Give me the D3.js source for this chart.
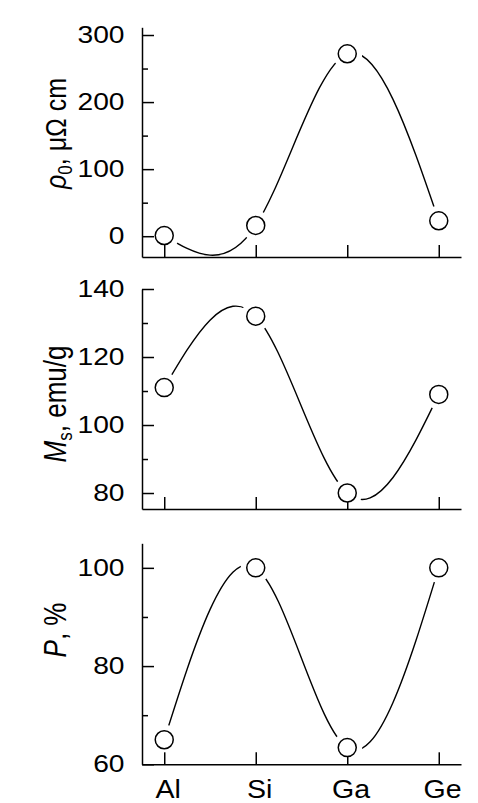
<!DOCTYPE html>
<html>
<head>
<meta charset="utf-8">
<script src="https://cdn.jsdelivr.net/npm/d3@7"></script>
<style>
  body { margin: 0; background: #fff; }
  text { font-family: "Liberation Sans", Arial, sans-serif; fill: #000; }
</style>
</head>
<body>
<script>

var width = 478,
    height = 803;

// data
var elements = ["Al", "Si", "Ga", "Ge"];
var rho0 = [1, 16, 272, 23];      // µΩ cm
var ms = [111, 132, 80, 109];     // emu/g
var pol = [65, 100, 63.4, 100];   // %

var rhoTicks = [0, 100, 200, 300], rhoMinor = [50, 150, 250];
var msTicks = [80, 100, 120, 140], msMinor = [90, 110, 130];
var polTicks = [60, 80, 100], polMinor = [70, 90];

var stretch = 1.2; // the original figure is a bit wider than tall

var svg = d3.select("body").append("svg")
    .attr("width", width)
    .attr("height", height);

var x = d3.scalePoint()
    .domain(elements)
    .range([142, 461])
    .padding(0.243);

var panels = [
  { values: rho0, domain: [-31, 311.5], range: [257, 27.3], ticks: rhoTicks, minor: rhoMinor, title: "rho", ty: 133.5, labels: false },
  { values: ms, domain: [75.3, 140], range: [509, 289], ticks: msTicks, minor: msMinor, title: "ms", ty: 404, labels: false },
  { values: pol, domain: [60, 105], range: [764.3, 543.3], ticks: polTicks, minor: polMinor, title: "p", ty: 630, labels: true }
];

panels.forEach(function(p) {
  var y = d3.scaleLinear().domain(p.domain).range(p.range);
  var g = svg.append("g");

  var pts = p.values.map(function(v, i) { return [x(elements[i]), y(v)]; });

  var line = d3.line().curve(d3.curveNatural);
  g.append("path")
      .attr("d", line(pts))
      .attr("fill", "none")
      .attr("stroke", "#000")
      .attr("stroke-width", 1.4);

  // white gap round each symbol, like the plotting program does
  g.selectAll("circle.gap")
      .data(pts)
      .enter().append("circle")
      .attr("class", "gap")
      .attr("cx", function(d) { return d[0]; })
      .attr("cy", function(d) { return d[1]; })
      .attr("r", 15)
      .attr("fill", "#fff");

  // axes
  var yAxis = g.append("g")
      .attr("transform", "translate(142,0)")
      .call(d3.axisLeft(y).tickValues(p.ticks).tickSize(-12).tickSizeOuter(0).tickPadding(17));
  yAxis.selectAll(".tick text")
      .attr("font-size", 23.5)
      .attr("x", -17.5 / stretch)
      .attr("transform", "scale(" + stretch + ",1)");

  g.append("g")
      .attr("transform", "translate(142,0)")
      .call(d3.axisLeft(y).tickValues(p.minor).tickSize(-6).tickSizeOuter(0).tickFormat(""))
      .select(".domain").remove();

  var xAxis = g.append("g")
      .attr("transform", "translate(0," + p.range[0] + ")")
      .call(d3.axisBottom(x).tickSize(-12).tickSizeOuter(0).tickPadding(16));
  if (!p.labels) xAxis.selectAll("text").remove();
  xAxis.selectAll(".tick text")
      .attr("font-size", 25.5)
      .attr("x", 3)
      .attr("transform", "scale(1.12,1)");

  g.selectAll(".domain, .tick line")
      .attr("stroke", "#000")
      .attr("stroke-width", 1.5);
  g.selectAll(".tick text")
      .attr("font-family", "Liberation Sans, Arial, sans-serif");

  g.selectAll("circle.pt")
      .data(pts)
      .enter().append("circle")
      .attr("class", "pt")
      .attr("cx", function(d) { return d[0]; })
      .attr("cy", function(d) { return d[1]; })
      .attr("r", 9)
      .attr("fill", "#fff")
      .attr("stroke", "#000")
      .attr("stroke-width", 1.5);

  // axis title
  var t = g.append("text")
      .attr("transform", "translate(66," + p.ty + ") rotate(-90) scale(1," + stretch + ")")
      .attr("text-anchor", "middle")
      .attr("font-size", 26);
  if (p.title == "rho") {
    t.attr("font-size", 25);
    t.append("tspan").attr("font-style", "italic").text("ρ");
    t.append("tspan").attr("font-size", 17).attr("dy", 5).text("0");
    t.append("tspan").attr("dy", -5).text(", μΩ cm");
  } else if (p.title == "ms") {
    t.append("tspan").attr("font-style", "italic").text("M");
    t.append("tspan").attr("font-size", 17).attr("dy", 5).text("s");
    t.append("tspan").attr("dy", -5).text(", emu/g");
  } else {
    t.append("tspan").attr("font-style", "italic").text("P");
    t.append("tspan").text(", %");
  }
});

</script>
</body>
</html>
